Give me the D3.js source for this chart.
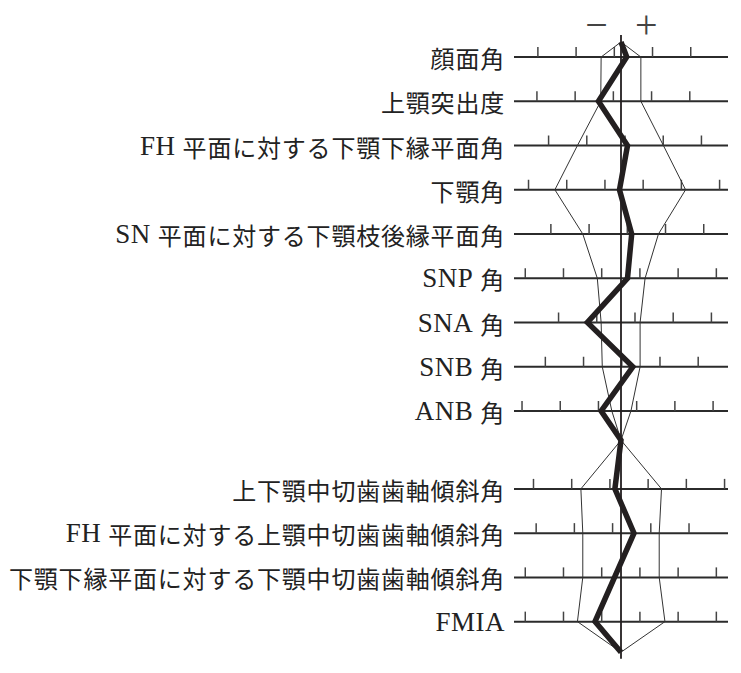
<!DOCTYPE html>
<html>
<head>
<meta charset="utf-8">
<script src="https://cdn.jsdelivr.net/npm/d3@7/dist/d3.min.js"></script>
<style>
  html, body { margin: 0; padding: 0; background: #fff; }
  svg { display: block; }
</style>
</head>
<body>
<svg id="chart" width="741" height="673"></svg>
<script>
// ---- data (values in "scale-step" units relative to the norm mean) ----
const categories = [
  "顔面角",
  "上顎突出度",
  "FH 平面に対する下顎下縁平面角",
  "下顎角",
  "SN 平面に対する下顎枝後縁平面角",
  "SNP 角",
  "SNA 角",
  "SNB 角",
  "ANB 角",
  "上下顎中切歯歯軸傾斜角",
  "FH 平面に対する上顎中切歯歯軸傾斜角",
  "下顎下縁平面に対する下顎中切歯歯軸傾斜角",
  "FMIA"
];
const groups = [0, 0, 0, 0, 0, 0, 0, 0, 0, 1, 1, 1, 1];
const normLow  = [-0.52, -0.53, -1.14, -1.73, -1.00, -0.62, -0.52, -0.49, -0.24, -1.05, -1.00, -1.00, -1.14];
const normHigh = [ 0.52,  0.52,  1.11,  1.69,  0.98,  0.63,  0.50,  0.50,  0.26,  1.06,  1.00,  1.00,  1.15];
const patient  = [ 0.15, -0.59,  0.17, -0.04,  0.28,  0.17, -0.88,  0.31, -0.52, -0.16,  0.34, -0.17, -0.68];
const tickValues = [
  [-2.175, -1.175, -0.175, 0.825, 1.825],
  [-2.2, -1.2, -0.2, 0.8, 1.8],
  [-1.895, -0.895, 0.105, 1.105, 2.105],
  [-2.42, -1.42, -0.42, 0.58, 1.58, 2.58],
  [-1.835, -0.835, 0.165, 1.165, 2.165],
  [-2.505, -1.505, -0.505, 0.495, 1.495, 2.495],
  [-1.634, -0.634, 0.366, 1.366, 2.366],
  [-1.98, -0.98, 0.02, 1.02, 2.02],
  [-2.59, -1.59, -0.59, 0.41, 1.41, 2.41],
  [-2.29, -1.29, -0.29, 0.71, 1.71, 2.71],
  [-2.22, -1.22, -0.22, 0.78, 1.78],
  [-2.505, -1.505, -0.505, 0.495, 1.495, 2.495],
  [-2.505, -1.505, -0.505, 0.495, 1.495, 2.495]
];
const signLabels = ["−", "+"];
const signValues = [-0.64, 0.66];

// ---- layout ----
const svg = d3.select("#chart");
const x = d3.scaleLinear().domain([-2.8, 2.8]).range([514, 728]);
const y = d3.scaleLinear().domain([0, 8]).range([57, 411]);
const groupGap = 0.76;
const slot = i => i + groups[i] * groupGap;
const topSlot = -0.34, midSlot = 8.66, bottomSlot = 13.45;
const ink = "#231f20";

const rows = categories.map((c, i) => ({
  label: c, i, ys: y(slot(i)),
  lo: normLow[i], hi: normHigh[i], p: patient[i], ticks: tickValues[i]
}));

// horizontal scale lines
svg.append("g").selectAll("line").data(rows).join("line")
  .attr("x1", x.range()[0]).attr("x2", x.range()[1])
  .attr("y1", d => d.ys).attr("y2", d => d.ys)
  .attr("stroke", "#2b2b2b").attr("stroke-width", 2);

// ticks
const tickG = svg.append("g");
rows.forEach(r => {
  tickG.selectAll(null).data(r.ticks).join("line")
    .attr("x1", v => x(v)).attr("x2", v => x(v))
    .attr("y1", r.ys).attr("y2", r.ys - 10)
    .attr("stroke", "#444").attr("stroke-width", 1.5);
});

// center (mean) line
svg.append("line")
  .attr("x1", x(0)).attr("x2", x(0))
  .attr("y1", y(-0.5)).attr("y2", y(13.6))
  .attr("stroke", ink).attr("stroke-width", 1.8);

// build paths
const line = d3.line().x(d => x(d[0])).y(d => y(d[1]));
function seq(key) {
  const pts = [[0, topSlot]];
  rows.forEach((r, i) => {
    if (i === 9) pts.push([0, midSlot]);
    pts.push([r[key], slot(i)]);
  });
  pts.push([0, bottomSlot]);
  return pts;
}

svg.append("path").attr("d", line(seq("lo")))
  .attr("fill", "none").attr("stroke", "#333").attr("stroke-width", 1);
svg.append("path").attr("d", line(seq("hi")))
  .attr("fill", "none").attr("stroke", "#333").attr("stroke-width", 1);

svg.append("path").attr("d", line(seq("p")))
  .attr("fill", "none").attr("stroke", ink).attr("stroke-width", 5.5)
  .attr("stroke-linejoin", "miter").attr("stroke-miterlimit", 4);

// labels: Latin runs in a Times-like serif, Japanese runs in CJK font
const labelG = svg.append("g");
rows.forEach(r => {
  const t = labelG.append("text")
    .attr("x", 505).attr("y", r.ys)
    .attr("text-anchor", "end").attr("dominant-baseline", "central")
    .attr("fill", "#222");
  const runs = r.label.match(/[A-Za-z]+|[^A-Za-z ]+| /g);
  let gap = 0;
  runs.forEach(run => {
    if (run === " ") { gap = 7; return; }
    const latin = /^[A-Za-z]+$/.test(run);
    t.append("tspan")
      .attr("dx", gap)
      .attr("font-family", latin ? "'Liberation Serif', serif" : "'Noto Sans CJK JP', sans-serif")
      .attr("font-size", latin ? 27 : 24)
      .attr("letter-spacing", latin ? 0.5 : 0.8)
      .text(run);
    gap = 0;
  });
});

// minus / plus signs
svg.append("g").selectAll("text").data(signLabels).join("text")
  .attr("x", (d, i) => x(signValues[i])).attr("y", 24)
  .attr("text-anchor", "middle").attr("dominant-baseline", "central")
  .attr("font-family", "'Liberation Serif', serif")
  .attr("font-size", 40).attr("fill", "#444")
  .text(d => d);
</script>
</body>
</html>
